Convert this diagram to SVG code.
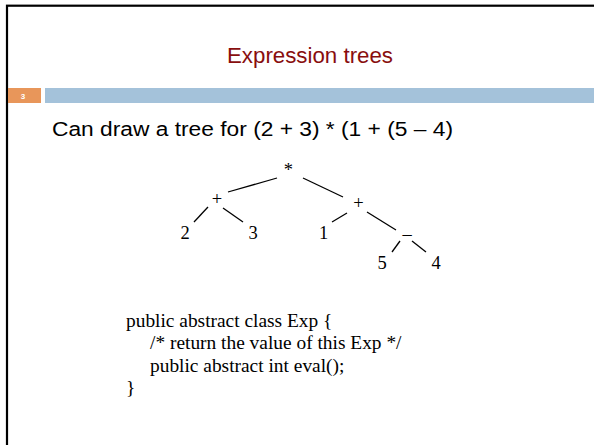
<svg xmlns="http://www.w3.org/2000/svg" width="594" height="445" viewBox="0 0 594 445">
<style>
.sans{font-family:"Liberation Sans","DejaVu Sans",sans-serif}
.serif{font-family:"Liberation Serif","DejaVu Serif",serif;fill:#000}
.node{font-size:18.5px;text-anchor:middle}
.code{font-size:19.4px}
.edge{stroke:#000;stroke-width:1.3;fill:none}
</style>
<rect x="0" y="0" width="594" height="445" fill="#fff"/>
<rect x="7" y="5.7" width="600" height="460" fill="none" stroke="#000" stroke-width="2.2"/>
<text class="sans" x="310" y="63" font-size="22" fill="#880E0E" text-anchor="middle" textLength="166" lengthAdjust="spacingAndGlyphs">Expression trees</text>
<rect x="8" y="88" width="33" height="15" fill="#E8965A"/>
<text class="sans" x="23" y="98.5" font-size="8" font-weight="bold" fill="#fff" text-anchor="middle">3</text>
<rect x="45" y="88" width="549" height="15" fill="#A4C2DA"/>
<text class="sans" x="52" y="136" font-size="20" fill="#000" textLength="401" lengthAdjust="spacingAndGlyphs">Can draw a tree for (2 + 3) * (1 + (5 – 4)</text>
<g id="connectors">
<line class="edge" x1="228" y1="192" x2="277" y2="178"/>
<line class="edge" x1="303" y1="178" x2="343" y2="197"/>
<line class="edge" x1="208" y1="207" x2="194" y2="222"/>
<line class="edge" x1="223" y1="208" x2="243" y2="222"/>
<line class="edge" x1="347" y1="213" x2="332" y2="222"/>
<line class="edge" x1="367" y1="212" x2="396" y2="230"/>
<line class="edge" x1="400" y1="241" x2="392" y2="252"/>
<line class="edge" x1="412" y1="241" x2="426" y2="252"/>
</g>
<g id="n-times"><text class="serif node" x="288.3" y="176">*</text></g>
<g id="n-plus-left"><text class="serif node" x="217" y="205">+</text></g>
<g id="n-2"><text class="serif node" x="185" y="239">2</text></g>
<g id="n-3"><text class="serif node" x="253" y="239">3</text></g>
<g id="n-plus-right"><text class="serif node" x="358.5" y="209">+</text></g>
<g id="n-1"><text class="serif node" x="323.5" y="239">1</text></g>
<g id="n-minus"><text class="serif node" x="407" y="240">–</text></g>
<g id="n-5"><text class="serif node" x="382" y="269">5</text></g>
<g id="n-4"><text class="serif node" x="436" y="269">4</text></g>
<g id="code" class="serif code">
<text x="126" y="327">public abstract class Exp {</text>
<text x="150" y="349">/* return the value of this Exp */</text>
<text x="150" y="372">public abstract int eval();</text>
<text x="126" y="394">}</text>
</g>
</svg>
